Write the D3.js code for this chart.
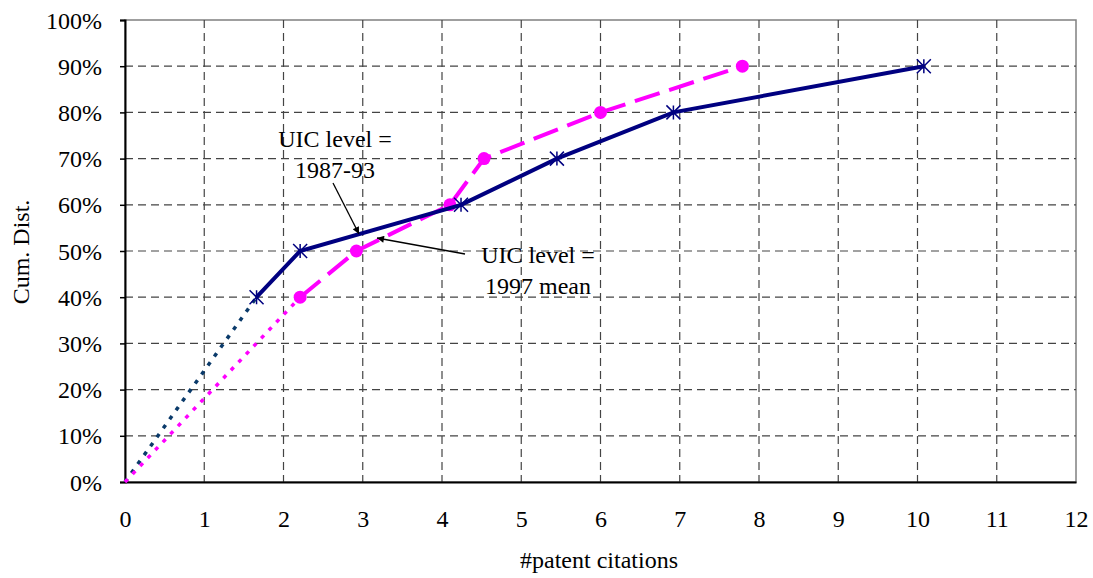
<!DOCTYPE html>
<html><head><meta charset="utf-8">
<script src="https://cdn.jsdelivr.net/npm/d3@7"></script>
<style>body{margin:0;background:#fff}svg{display:block}</style>
</head><body>
<svg id="c" width="1093" height="578"></svg>
<script>
const xTicks = [0,1,2,3,4,5,6,7,8,9,10,11,12];
const yTicks = [0,0.1,0.2,0.3,0.4,0.5,0.6,0.7,0.8,0.9,1.0];
// UIC level = 1987-93 (navy, asterisk markers)
const blueX = [1.66, 2.21, 4.24, 5.45, 6.92, 10.08];
const blueY = [0.40, 0.50, 0.60, 0.70, 0.80, 0.90];
// UIC level = 1997 mean (magenta, circle markers)
const pinkX = [2.21, 2.92, 4.10, 4.53, 6.00, 7.79];
const pinkY = [0.40, 0.50, 0.60, 0.70, 0.80, 0.90];
const origin = [0, 0];

const FONT = "'Liberation Serif', 'Times New Roman', Tinos, serif";
const svg = d3.select("#c");
const L = 125, R = 1076, T = 20, B = 482;
const x = d3.scaleLinear().domain([0,12]).range([L,R]);
const y = d3.scaleLinear().domain([0,1]).range([B,T]);

// plot border
svg.append("rect").attr("x",L).attr("y",T).attr("width",R-L).attr("height",B-T)
  .attr("fill","none").attr("stroke","#808080").attr("stroke-width",1.5);

// gridlines
const g = svg.append("g");
g.selectAll(".gx").data(xTicks.slice(1,-1)).join("line")
  .attr("x1",d=>x(d)).attr("x2",d=>x(d)).attr("y1",T).attr("y2",B)
  .attr("stroke","#444").attr("stroke-width",1.2).attr("stroke-dasharray","8,5");
g.selectAll(".gy").data(yTicks.slice(1,-1)).join("line")
  .attr("x1",L).attr("x2",R).attr("y1",d=>y(d)).attr("y2",d=>y(d))
  .attr("stroke","#444").attr("stroke-width",1.2).attr("stroke-dasharray","8,5");

// axes
const xa = svg.append("g").attr("transform",`translate(0,${B})`)
  .call(d3.axisBottom(x).tickValues(xTicks).tickSize(0).tickPadding(28).tickFormat(d3.format("d")));
xa.attr("font-family",null).attr("font-size",null);
xa.select(".domain").attr("stroke","#000").attr("stroke-width",2);
xa.selectAll("text").style("font-size","24px").style("font-family",FONT).attr("fill","#000");
const ya = svg.append("g").attr("transform",`translate(${L},0)`)
  .call(d3.axisLeft(y).tickValues(yTicks).tickSize(5).tickPadding(18).tickFormat(d3.format(".0%")));
ya.attr("font-family",null).attr("font-size",null);
ya.select(".domain").attr("stroke","#000").attr("stroke-width",2);
ya.selectAll("line").attr("stroke","#000").attr("stroke-width",1.5);
ya.selectAll("text").style("font-size","24px").style("font-family",FONT).attr("fill","#000").attr("dy","0.34em");

svg.append("text").attr("x",599).attr("y",568).attr("text-anchor","middle")
  .style("font-size","24px").style("font-family",FONT).text("#patent citations");
svg.append("text").attr("transform","translate(29,252) rotate(-90)").attr("text-anchor","middle")
  .style("font-size","24px").style("font-family",FONT).text("Cum. Dist.");

const line = d3.line().x(d=>x(d[0])).y(d=>y(d[1]));
const blue = blueX.map((v,i)=>[v,blueY[i]]);
const pink = pinkX.map((v,i)=>[v,pinkY[i]]);

// dotted extrapolations
svg.append("path").attr("d",line([origin,blue[0]])).attr("fill","none")
  .attr("stroke","#0a3a6a").attr("stroke-width",3.5).attr("stroke-dasharray","4,7");
svg.append("path").attr("d",line([origin,pink[0]])).attr("fill","none")
  .attr("stroke","#ff00ff").attr("stroke-width",3.5).attr("stroke-dasharray","4,7");

// pink dashed
svg.append("path").attr("d",line(pink)).attr("fill","none")
  .attr("stroke","#ff00ff").attr("stroke-width",4).attr("stroke-dasharray","26,10");
svg.selectAll(".pc").data(pink).join("circle")
  .attr("cx",d=>x(d[0])).attr("cy",d=>y(d[1])).attr("r",6.5).attr("fill","#ff00ff");

// blue solid
svg.append("path").attr("d",line(blue)).attr("fill","none")
  .attr("stroke","#000080").attr("stroke-width",4);
const s = 7;
const mk = svg.selectAll(".bm").data(blue).join("g")
  .attr("transform",d=>`translate(${x(d[0])},${y(d[1])})`);
mk.append("path").attr("d",`M${-s},${-s}L${s},${s}M${-s},${s}L${s},${-s}M0,${-s}L0,${s}`)
  .attr("stroke","#000080").attr("stroke-width",1.5);

// annotations
const defs = svg.append("defs");
defs.append("marker").attr("id","ah").attr("viewBox","0 0 10 10").attr("refX",10).attr("refY",5)
  .attr("markerWidth",9).attr("markerHeight",7).attr("markerUnits","userSpaceOnUse").attr("orient","auto")
  .append("path").attr("d","M0,0L10,5L0,10Z").attr("fill","#000");
function note(lines, cx, cy, from, to){
  const t = svg.append("text").attr("x",cx).attr("y",cy).attr("text-anchor","middle")
    .style("font-size","24px").style("font-family",FONT);
  lines.forEach((l,i)=>t.append("tspan").attr("x",cx).attr("dy",i?31:0).text(l));
  svg.append("line").attr("x1",from[0]).attr("y1",from[1]).attr("x2",to[0]).attr("y2",to[1])
    .attr("stroke","#000").attr("stroke-width",1.3).attr("marker-end","url(#ah)");
}
note(["UIC level =","1987-93"], 335, 147, [333,183], [359,234]);
note(["UIC level =","1997 mean"], 538, 263, [465,254], [377,238]);
</script>
</body></html>
